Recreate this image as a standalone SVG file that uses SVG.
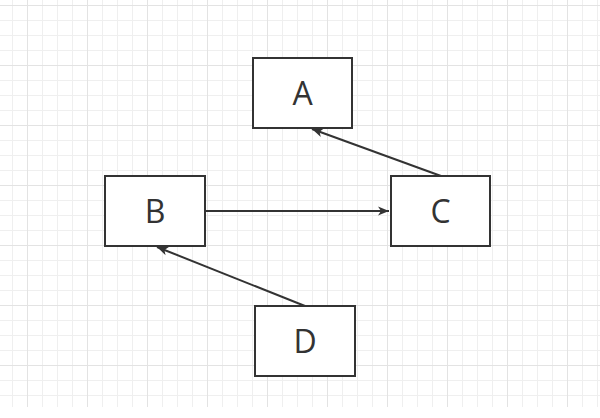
<svg xmlns="http://www.w3.org/2000/svg" width="600" height="418" viewBox="0 0 600 418">
  <defs>
    <pattern id="grid" patternUnits="userSpaceOnUse" x="27" y="5" width="60" height="60">
      <path d="M15.5 0V60M30.5 0V60M45.5 0V60M0 15.5H60M0 30.5H60M0 45.5H60" stroke="#efefef" stroke-width="1" fill="none"/>
      <path d="M0.5 0V60M0 0.5H60" stroke="#e3e3e3" stroke-width="1" fill="none"/>
    </pattern>
    <marker id="arrow" markerUnits="userSpaceOnUse" markerWidth="14" markerHeight="12" viewBox="-12 -6 14 12" refX="0" refY="0" orient="auto">
      <path d="M0 0L-11 -4.5L-8 0L-11 4.5Z" fill="#333"/>
    </marker>
    <style>
      .box { fill: #fff; stroke: #333; stroke-width: 2; }
      .lbl { font-family: "Open Sans", "Noto Sans", "Liberation Sans", sans-serif; font-size: 32px; fill: #333; text-anchor: middle; }
      .edge { stroke: #333; stroke-width: 2; fill: none; marker-end: url(#arrow); }
    </style>
  </defs>
  <rect x="0" y="0" width="600" height="418" fill="#fff"/>
  <rect x="0" y="0" width="600" height="407" fill="url(#grid)"/>
  <g id="connectors">
    <path class="edge" d="M206 211H389"/>
    <path class="edge" d="M441 176L312 129"/>
    <path class="edge" d="M305 306L157 247"/>
  </g>
  <g id="node-A">
    <rect class="box" x="253" y="58" width="99" height="70"/>
    <text class="lbl" x="302.5" y="105">A</text>
  </g>
  <g id="node-B">
    <rect class="box" x="105" y="176" width="100" height="70"/>
    <text class="lbl" x="155" y="223">B</text>
  </g>
  <g id="node-C">
    <rect class="box" x="391" y="176" width="99" height="70"/>
    <text class="lbl" x="440.5" y="223">C</text>
  </g>
  <g id="node-D">
    <rect class="box" x="255" y="306" width="100" height="70"/>
    <text class="lbl" x="305" y="353">D</text>
  </g>
</svg>
